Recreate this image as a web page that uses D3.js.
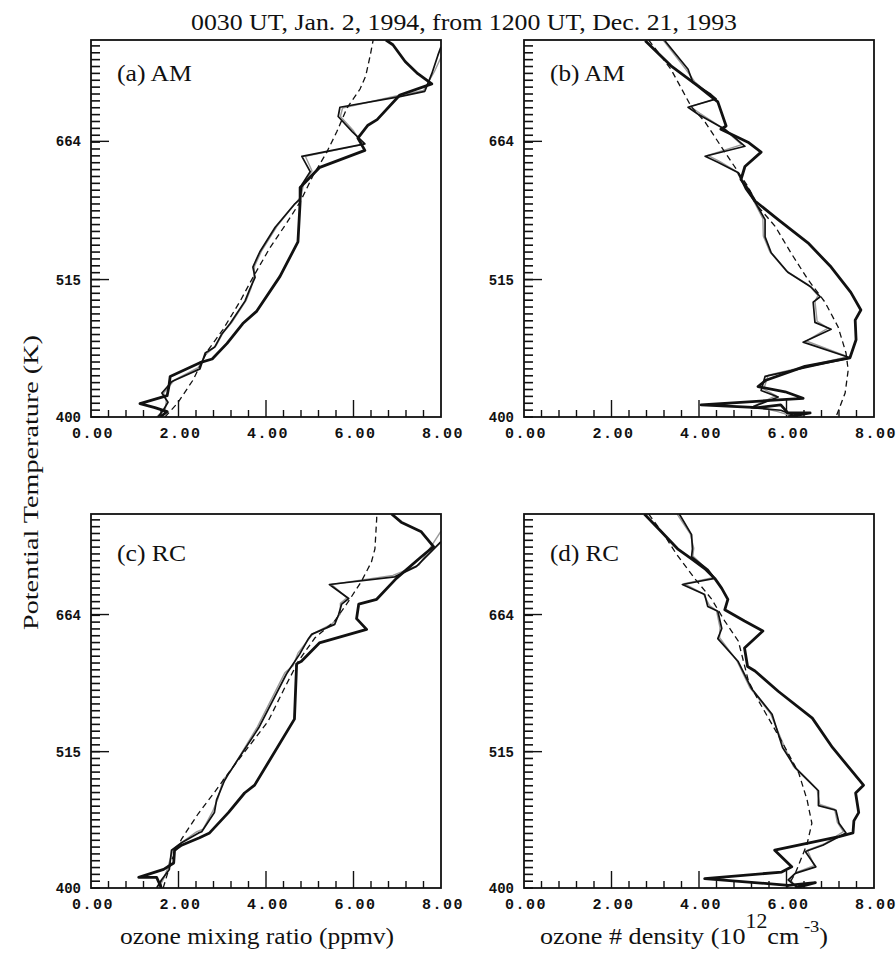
<!DOCTYPE html>
<html lang="en">
<head>
<meta charset="UTF-8">
<title>ozone profiles</title>
<script src="https://cdn.jsdelivr.net/npm/d3@7"></script>
<style>
  body { margin: 0; background: #fff; }
  .tick-label { font-family: "Liberation Mono", "DejaVu Sans Mono", monospace; font-weight: bold; font-size: 15px; fill: #111; }
  .serif { font-family: "Liberation Serif", "Times New Roman", serif; fill: #111; }
</style>
</head>
<body>
<svg id="chart" width="896" height="956"></svg>
<script>
// tick values and labels
const xTicksMajor = [0, 2, 4, 6, 8];
const xTickLabels = ["0.00", "2.00", "4.00", "6.00", "8.00"];
const yTicksMajor = [400, 515, 664];
const yTickLabels = ["400", "515", "664"];
const panelLabels = ["(a) AM", "(b) AM", "(c) RC", "(d) RC"];

// [value, potential temperature K]
const aDashed = [[1.69,400],[1.97,410],[2.33,428],[2.65,451],[3.02,470],[3.41,495],[3.70,517],[4.09,546],[4.48,572],[4.78,594],[5.07,623],[5.39,651],[5.62,676],[5.85,706],[6.15,731],[6.28,749],[6.38,777],[6.45,800]];
const aThick = [[1.58,400],[1.74,404],[1.46,407],[1.12,410],[1.74,416],[1.78,423],[1.81,431],[2.49,442],[2.77,445],[3.11,458],[3.47,475],[3.79,486],[4.32,518],[4.73,552],[4.78,594],[4.78,610],[5.23,633],[6.26,653],[6.10,668],[6.33,684],[6.54,691],[7.06,723],[7.79,738],[7.47,752],[7.18,769],[6.90,793],[6.74,800]];
const aMedium = [[1.53,400],[1.65,405],[1.76,411],[1.62,418],[1.85,427],[2.49,437],[2.61,450],[2.83,455],[2.99,466],[3.18,475],[3.52,495],[3.63,506],[3.75,517],[3.70,527],[3.86,542],[4.21,567],[4.66,592],[4.78,597],[4.82,613],[5.01,628],[4.82,646],[6.26,661],[5.97,676],[5.65,695],[5.69,707],[7.06,721],[7.63,728],[7.79,752],[7.93,778],[8.0,790]];
const aGray = [[1.50,400],[1.70,406],[1.72,412],[1.66,418],[1.90,428],[2.45,438],[2.63,449],[2.86,456],[3.02,467],[3.22,476],[3.55,496],[3.66,507],[3.72,518],[3.74,528],[3.90,543],[4.25,568],[4.68,593],[4.80,600],[4.86,614],[5.05,629],[4.90,646],[6.20,660],[6.0,677],[5.70,695],[5.75,706],[7.0,722],[7.6,729],[7.85,755],[8.0,775]];

const bDashed = [[2.85,800],[3.36,758],[3.82,708],[4.14,688],[4.59,651],[5.12,611],[5.35,589],[5.74,568],[6.10,541],[6.49,515],[6.88,494],[7.18,472],[7.36,450],[7.41,436],[7.34,418],[7.13,400]];
const bThick = [[2.77,799],[3.36,763],[3.98,735],[4.43,714],[4.62,683],[4.50,679],[5.12,663],[5.42,651],[5.05,634],[4.96,619],[5.12,608],[5.28,595],[5.81,575],[6.49,551],[7.02,527],[7.47,503],[7.70,487],[7.57,478],[7.59,461],[7.45,446],[6.42,439],[5.53,428],[5.35,423],[5.97,419],[6.38,414],[4.05,409],[5.35,407],[5.87,409],[6.03,403],[6.54,403],[6.03,400]];
const bMedium = [[3.22,799],[3.75,758],[3.86,740],[4.27,724],[4.39,718],[3.75,707],[3.98,698],[4.59,679],[5.05,658],[4.14,646],[4.43,639],[4.89,627],[5.07,608],[5.28,594],[5.51,575],[5.51,557],[5.65,541],[6.03,522],[6.56,508],[6.77,499],[6.61,494],[6.65,476],[7.02,470],[6.38,459],[7.45,446],[5.51,431],[5.42,420],[5.81,415],[5.19,407],[5.87,405],[6.26,400]];
const bGray = [[3.18,800],[3.70,758],[3.90,741],[4.22,725],[4.35,717],[3.80,708],[4.02,699],[4.55,680],[4.98,660],[4.20,647],[4.47,640],[4.86,628],[5.10,609],[5.25,595],[5.46,576],[5.47,558],[5.62,542],[6.0,523],[6.5,510],[6.72,500],[6.65,495],[6.70,477],[6.95,471],[6.45,460],[7.40,447],[5.58,432],[5.48,421],[5.76,416],[5.25,408],[5.80,404],[6.2,400]];

const cDashed = [[1.65,400],[1.84,421],[2.07,438],[2.45,459],[2.83,478],[3.14,495],[3.59,519],[4.05,545],[4.43,580],[4.74,609],[5.12,636],[5.57,656],[5.88,680],[6.18,706],[6.41,732],[6.49,750],[6.53,793],[6.53,800]];
const cThick = [[1.61,400],[1.50,408],[1.09,408],[1.66,414],[1.89,419],[1.91,429],[2.07,433],[2.48,439],[2.71,443],[3.14,460],[3.51,477],[3.74,484],[4.65,547],[4.70,606],[4.81,609],[5.22,630],[6.30,646],[6.07,659],[6.12,677],[6.53,683],[6.98,710],[7.55,739],[7.83,753],[7.55,774],[7.09,788],[6.87,800]];
const cMedium = [[1.50,400],[1.61,406],[1.79,414],[1.84,429],[2.07,435],[2.46,443],[2.53,444],[2.82,460],[2.87,471],[3.05,488],[3.14,494],[3.83,538],[4.47,595],[4.58,603],[4.77,617],[4.97,635],[5.04,640],[5.57,652],[5.66,664],[5.73,677],[5.89,684],[5.45,702],[6.94,712],[7.44,726],[8.0,760]];
const cGray = [[1.55,400],[1.66,407],[1.75,415],[1.88,430],[2.1,436],[2.42,444],[2.56,446],[2.78,461],[2.90,472],[3.02,489],[3.18,496],[3.80,539],[4.43,596],[4.62,604],[4.73,618],[5.0,636],[5.08,641],[5.52,653],[5.70,665],[5.70,678],[5.85,685],[5.50,702],[6.9,714],[7.5,728],[8.0,775]];

const dDashed = [[2.85,800],[3.2,770],[3.47,744],[3.90,710],[4.28,684],[4.59,656],[4.90,632],[5.13,587],[5.36,566],[5.89,525],[6.28,495],[6.47,471],[6.58,451],[6.47,434],[6.20,411],[6.01,400]];
const dThick = [[2.75,800],[3.14,774],[3.51,750],[3.83,736],[4.13,723],[4.36,710],[4.52,697],[4.66,683],[4.59,670],[5.04,656],[5.46,644],[5.04,624],[5.11,603],[5.28,598],[5.81,576],[6.59,548],[7.05,519],[7.76,484],[7.58,477],[7.65,460],[7.54,453],[7.52,443],[7.20,440],[5.73,429],[6.12,416],[5.89,412],[4.13,407],[6.04,402],[6.66,404],[6.2,400]];
const dMedium = [[3.55,800],[3.83,770],[3.85,750],[3.83,739],[4.20,722],[4.36,710],[3.62,702],[4.13,689],[4.20,674],[4.43,668],[4.52,647],[4.43,635],[4.89,609],[5.20,579],[5.67,552],[5.91,519],[6.20,500],[6.50,488],[6.73,479],[6.73,466],[7.13,462],[7.20,451],[7.36,443],[6.83,433],[6.43,428],[6.67,416],[6.20,411],[6.04,406],[6.27,400]];
const dGray = [[3.5,800],[3.8,771],[3.88,751],[3.86,740],[4.16,723],[4.32,711],[3.66,703],[4.10,690],[4.24,675],[4.40,669],[4.48,648],[4.47,636],[4.86,610],[5.16,580],[5.63,553],[5.95,520],[6.16,501],[6.46,489],[6.70,480],[6.76,467],[7.10,463],[7.16,452],[7.30,444],[6.86,434],[6.48,429],[6.63,417],[6.24,412],[6.08,407],[6.22,400]];

const panels = [
  { label: panelLabels[0], col: 0, row: 0, gray: aGray, dashed: aDashed, medium: aMedium, thick: aThick },
  { label: panelLabels[1], col: 1, row: 0, gray: bGray, dashed: bDashed, medium: bMedium, thick: bThick },
  { label: panelLabels[2], col: 0, row: 1, gray: cGray, dashed: cDashed, medium: cMedium, thick: cThick },
  { label: panelLabels[3], col: 1, row: 1, gray: dGray, dashed: dDashed, medium: dMedium, thick: dThick }
];

const colX = [91, 524];
const rowTop = [40, 514];
const rowBottom = [417, 888];
const pw = 350;

const svg = d3.select("#chart");

// minor y ticks: 20 per major interval, evenly spaced on the log axis
const yRatio = Math.pow(515 / 400, 1 / 20);
const yMinor = [];
for (let t = 400; t <= 800.5; t *= yRatio) yMinor.push(t);
const xMinor = d3.range(0, 8.001, 0.4).filter(v => Math.abs(v / 2 - Math.round(v / 2)) > 0.01);

panels.forEach((p, i) => {
  const x0 = colX[p.col], top = rowTop[p.row], bottom = rowBottom[p.row];
  const x = d3.scaleLinear().domain([0, 8]).range([x0, x0 + pw]);
  const y = d3.scaleLog().domain([400, 800]).range([bottom, top]);

  const g = svg.append("g");
  g.append("clipPath").attr("id", "clip" + i)
    .append("rect").attr("x", x0).attr("y", top).attr("width", pw).attr("height", bottom - top);

  // ticks on left (inward)
  g.selectAll(".ymin").data(yMinor).enter().append("line")
    .attr("x1", x0).attr("x2", x0 + 9)
    .attr("y1", d => y(d)).attr("y2", d => y(d))
    .attr("stroke", "#111").attr("stroke-width", 1.6);
  g.selectAll(".ymaj").data(yTicksMajor.slice(1)).enter().append("line")
    .attr("x1", x0).attr("x2", x0 + 18)
    .attr("y1", d => y(d)).attr("y2", d => y(d))
    .attr("stroke", "#111").attr("stroke-width", 1.4);
  g.selectAll(".ylab").data(yTicksMajor).enter().append("text")
    .attr("class", "tick-label")
    .attr("x", x0 - 10).attr("y", d => y(d) + 5)
    .attr("text-anchor", "end")
    .style("font-size", "14px")
    .text((d, k) => yTickLabels[k]);

  // ticks on bottom (inward)
  g.selectAll(".xmin").data(xMinor).enter().append("line")
    .attr("x1", d => x(d)).attr("x2", d => x(d))
    .attr("y1", bottom).attr("y2", bottom - 7)
    .attr("stroke", "#111").attr("stroke-width", 1.4);
  g.selectAll(".xmaj").data(xTicksMajor.slice(1, -1)).enter().append("line")
    .attr("x1", d => x(d)).attr("x2", d => x(d))
    .attr("y1", bottom).attr("y2", bottom - 17)
    .attr("stroke", "#111").attr("stroke-width", 1.4);
  g.selectAll(".xlab").data(xTicksMajor).enter().append("text")
    .attr("class", "tick-label")
    .attr("x", d => x(d) + 2).attr("y", bottom + 21)
    .attr("text-anchor", "middle")
    .attr("letter-spacing", "1.5px")
    .text((d, k) => xTickLabels[k]);

  // profiles
  const line = d3.line().x(d => x(d[0])).y(d => y(d[1]));
  const lines = g.append("g").attr("clip-path", "url(#clip" + i + ")");
  lines.append("path").datum(p.gray).attr("d", line)
    .attr("fill", "none").attr("stroke", "#9a9a9a").attr("stroke-width", 1.4).attr("stroke-linejoin", "round");
  lines.append("path").datum(p.dashed).attr("d", line)
    .attr("fill", "none").attr("stroke", "#111").attr("stroke-width", 1.3).attr("stroke-dasharray", "6,4");
  lines.append("path").datum(p.medium).attr("d", line)
    .attr("fill", "none").attr("stroke", "#111").attr("stroke-width", 1.7).attr("stroke-linejoin", "round");
  lines.append("path").datum(p.thick).attr("d", line)
    .attr("fill", "none").attr("stroke", "#111").attr("stroke-width", 2.8).attr("stroke-linejoin", "round");

  // frame
  g.append("rect").attr("x", x0).attr("y", top).attr("width", pw).attr("height", bottom - top)
    .attr("fill", "none").attr("stroke", "#111").attr("stroke-width", 1.8);

  g.append("text").attr("class", "serif")
    .attr("x", x0 + 26).attr("y", top + (p.row === 0 ? 41 : 47))
    .attr("textLength", p.row === 0 ? 75 : 69).attr("lengthAdjust", "spacingAndGlyphs")
    .style("font-size", "23px")
    .text(p.label);
});

svg.append("text").attr("class", "serif")
  .attr("x", 191).attr("y", 30)
  .attr("textLength", 546).attr("lengthAdjust", "spacingAndGlyphs")
  .style("font-size", "24px")
  .text("0030 UT, Jan. 2, 1994, from 1200 UT, Dec. 21, 1993");

svg.append("text").attr("class", "serif")
  .attr("transform", "translate(38,630) rotate(-90)")
  .attr("textLength", 295).attr("lengthAdjust", "spacingAndGlyphs")
  .style("font-size", "22px")
  .text("Potential Temperature (K)");

svg.append("text").attr("class", "serif")
  .attr("x", 120).attr("y", 944)
  .attr("textLength", 274).attr("lengthAdjust", "spacingAndGlyphs")
  .style("font-size", "24px")
  .text("ozone mixing ratio (ppmv)");

const dens = svg.append("text").attr("class", "serif")
  .attr("transform", "translate(540,944) scale(1.09,1)")
  .style("font-size", "24px");
dens.append("tspan").text("ozone # density (10");
dens.append("tspan").attr("dy", -16).style("font-size", "20px").text("12");
dens.append("tspan").attr("dy", 16).text("cm");
dens.append("tspan").attr("dy", -12).style("font-size", "17px").text(" -3");
dens.append("tspan").attr("dy", 12).text(")");
</script>
</body>
</html>
